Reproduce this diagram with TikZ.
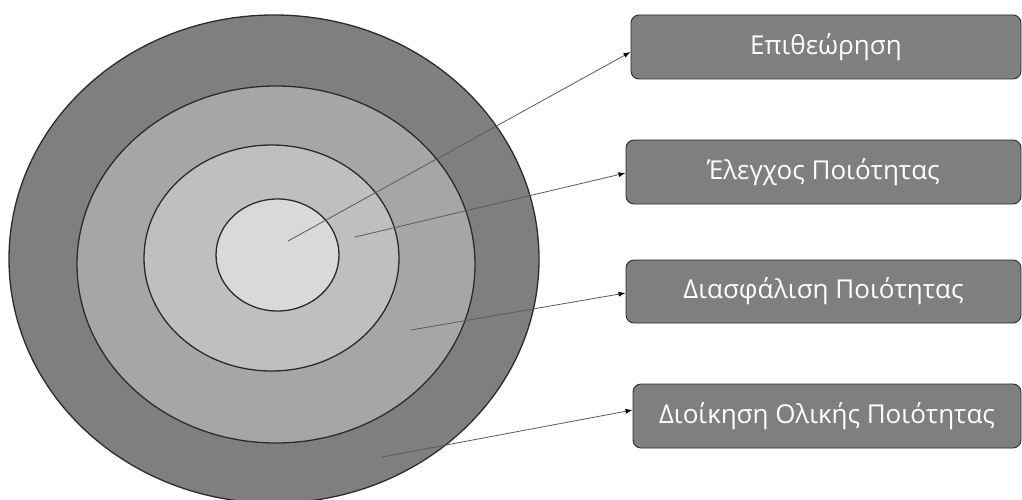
\documentclass[tikz,border=0pt]{standalone}
\usepackage{fontspec}
\setmainfont{Open Sans}
\usetikzlibrary{arrows.meta,calc}

\definecolor{ringOuter}{HTML}{7F7F7F}
\definecolor{ringSecond}{HTML}{A6A6A6}
\definecolor{ringThird}{HTML}{BFBFBF}
\definecolor{ringCore}{HTML}{D9D9D9}
\definecolor{boxFill}{HTML}{7F7F7F}
\definecolor{edgeDark}{HTML}{2B2B2B}
\definecolor{linkGray}{HTML}{5A5A5A}

\begin{document}
\begin{tikzpicture}[x=1pt,y=-1pt,
  ring/.style={draw=edgeDark, line width=1.3pt},
  levelbox/.style={draw=edgeDark, fill=boxFill, rounded corners=8pt,
    line width=0.9pt, text=white, inner sep=0pt,
    font=\fontsize{26}{30}\selectfont},
  link/.style={draw=linkGray, line width=0.8pt,
    -{Latex[length=7pt,width=5pt,fill=black,color=black]}}]

\useasboundingbox (0,0) rectangle (1022,500);

% concentric quality levels
\path[ring, fill=ringOuter]  (274,259)   ellipse [x radius=265,   y radius=244];
\path[ring, fill=ringSecond] (276,264.5) ellipse [x radius=199,   y radius=178.5];
\path[ring, fill=ringThird]  (271.5,258) ellipse [x radius=127.5, y radius=113];
\path[ring, fill=ringCore]   (277.5,255) ellipse [x radius=61.5,  y radius=56];

% labels
\node[levelbox, minimum width=390pt, minimum height=64pt] (b1) at (826,47)    {Επιθεώρηση};
\node[levelbox, minimum width=395pt, minimum height=64pt] (b2) at (823.5,172) {Έλεγχος Ποιότητας};
\node[levelbox, minimum width=395pt, minimum height=63pt] (b3) at (823.5,291.5) {Διασφάλιση Ποιότητας};
\node[levelbox, minimum width=388pt, minimum height=64pt] (b4) at (827,416)   {Διοίκηση Ολικής Ποιότητας};

% anchor points inside each ring
\coordinate (p1) at (288,241);
\coordinate (p2) at (355,237);
\coordinate (p3) at (411,330);
\coordinate (p4) at (382,457);

\draw[link] (p1) -- ($(b1.west)+(0,5)$);
\draw[link] (p2) -- ($(b2.west)+(0,1)$);
\draw[link] (p3) -- ($(b3.west)+(0,1.5)$);
\draw[link] (p4) -- ($(b4.west)+(0,-6)$);
\end{tikzpicture}
\end{document}
